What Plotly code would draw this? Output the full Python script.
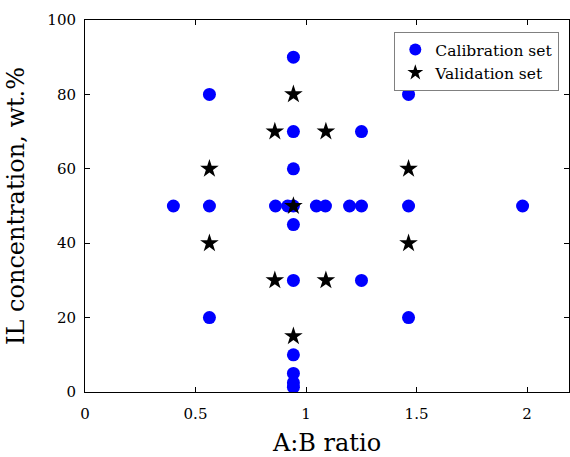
import plotly.graph_objects as go

cal_x = [0.40, 0.563, 0.563, 0.563, 0.862, 0.917, 0.943, 0.943, 0.943, 0.943, 0.943, 0.943, 0.943, 0.943, 0.943, 0.943,
         1.047, 1.088, 1.197, 1.251, 1.251, 1.251, 1.464, 1.464, 1.464, 1.98]
cal_y = [50, 80, 50, 20, 50, 50, 90, 70, 60, 50, 45, 30, 10, 5, 2.5, 1.3,
         50, 50, 50, 70, 50, 30, 80, 50, 20, 50]

val_x = [0.563, 0.563, 0.859, 0.859, 0.943, 0.943, 0.943, 1.09, 1.09, 1.464, 1.464]
val_y = [60, 40, 70, 30, 80, 50, 15, 70, 30, 60, 40]

x_ticks = [0, 0.5, 1, 1.5, 2]
x_tick_labels = ["0", "0.5", "1", "1.5", "2"]
y_ticks = [0, 20, 40, 60, 80, 100]

FONT = "DejaVu Serif"

fig = go.Figure()
fig.add_trace(go.Scatter(x=cal_x, y=cal_y, mode="markers", name="Calibration set",
                         marker=dict(symbol="circle", size=13, color="#0000ff", line=dict(width=0))))
fig.add_trace(go.Scatter(x=val_x, y=val_y, mode="markers", name="Validation set",
                         marker=dict(symbol="star", size=14, color="black", line=dict(width=0))))

axis_common = dict(showline=True, linecolor="black", linewidth=1, mirror="ticks",
                   ticks="inside", ticklen=5, tickcolor="black", showgrid=False, zeroline=False,
                   automargin=False,
                   tickfont=dict(family=FONT, size=15, color="black"))

fig.update_layout(
    width=570, height=457,
    margin=dict(l=85, r=1, t=20, b=65),
    paper_bgcolor="white", plot_bgcolor="white",
    font=dict(family=FONT, color="black"),
    xaxis=dict(range=[0, 2.19], tickvals=x_ticks, ticktext=x_tick_labels, ticklabelstandoff=8,
               title=dict(text="A:B ratio", font=dict(family=FONT, size=24), standoff=14), **axis_common),
    yaxis=dict(range=[0, 100], tickvals=y_ticks, ticklabelstandoff=5,
               title=dict(text="IL concentration, wt.%", font=dict(family=FONT, size=24), standoff=15), **axis_common),
    legend=dict(x=0.98, y=0.968, xanchor="right", yanchor="top", bgcolor="white",
                bordercolor="#808080", borderwidth=1, font=dict(family=FONT, size=15.5), tracegroupgap=0,
                itemsizing="constant"),
    showlegend=True,
)

fig.write_html("out.html", config={"displayModeBar": False},
               post_script="document.body.style.margin='0';")
